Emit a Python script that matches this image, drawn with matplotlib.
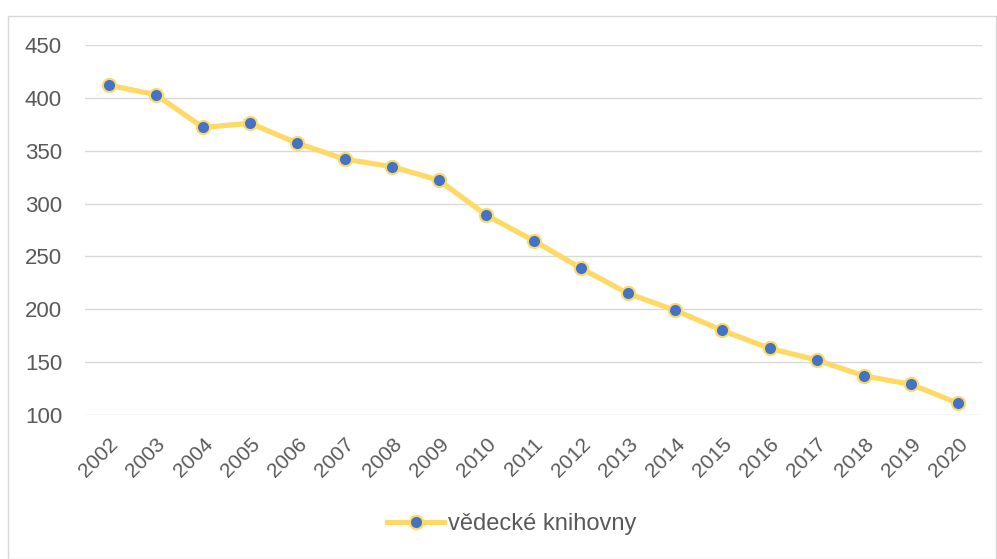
import matplotlib
matplotlib.use("Agg")
import matplotlib.pyplot as plt
from matplotlib.patches import Rectangle

years = ["2002", "2003", "2004", "2005", "2006", "2007", "2008", "2009", "2010", "2011",
         "2012", "2013", "2014", "2015", "2016", "2017", "2018", "2019", "2020"]
values = [412, 403, 372, 376, 357, 342, 335, 322, 289, 265,
          239, 215, 199, 180, 163, 152, 137, 129, 111]
yticks = [100, 150, 200, 250, 300, 350, 400, 450]
series_name = "vědecké knihovny"

plt.rcParams['font.family'] = ['Liberation Sans', 'DejaVu Sans']

W, H = 997, 559
fig = plt.figure(figsize=(W / 100, H / 100), dpi=100)
fig.patches.append(Rectangle((8 / W, 0), (W - 9) / W, (H - 16) / H, transform=fig.transFigure,
                             fill=False, edgecolor='#D9D9D9', linewidth=1.0))

ax = fig.add_axes([85 / W, 1 - 415 / H, (982 - 85) / W, (415 - 45) / H])
x = list(range(len(years)))
ax.plot(x, values, color='#FFD966', linewidth=3.8, marker='o', markersize=9.5,
        markerfacecolor='#4472C4', markeredgecolor='#FFD966', markeredgewidth=1.5,
        label=series_name, zorder=3)

ax.set_xlim(-0.5, len(years) - 0.5)
ax.set_ylim(100, 450)
ax.set_yticks(yticks)
ax.set_yticklabels([str(v) for v in yticks])
ax.set_xticks(x)
ax.set_xticklabels(years, rotation=45, ha='right', rotation_mode='anchor')
ax.grid(axis='y', color='#D9D9D9', linewidth=1.0)
ax.set_axisbelow(True)
for s in ax.spines.values():
    s.set_visible(False)
ax.tick_params(axis='both', length=0, colors='#595959')
ax.tick_params(axis='y', pad=16.5, labelsize=16)
ax.tick_params(axis='x', pad=14, labelsize=15)

leg = fig.legend(loc='center', bbox_to_anchor=(512 / W, 1 - 524 / H), frameon=False,
                 fontsize=17, handlelength=2.4, handletextpad=0.17)
for t in leg.get_texts():
    t.set_color('#595959')

fig.savefig("out.png", dpi=100)
